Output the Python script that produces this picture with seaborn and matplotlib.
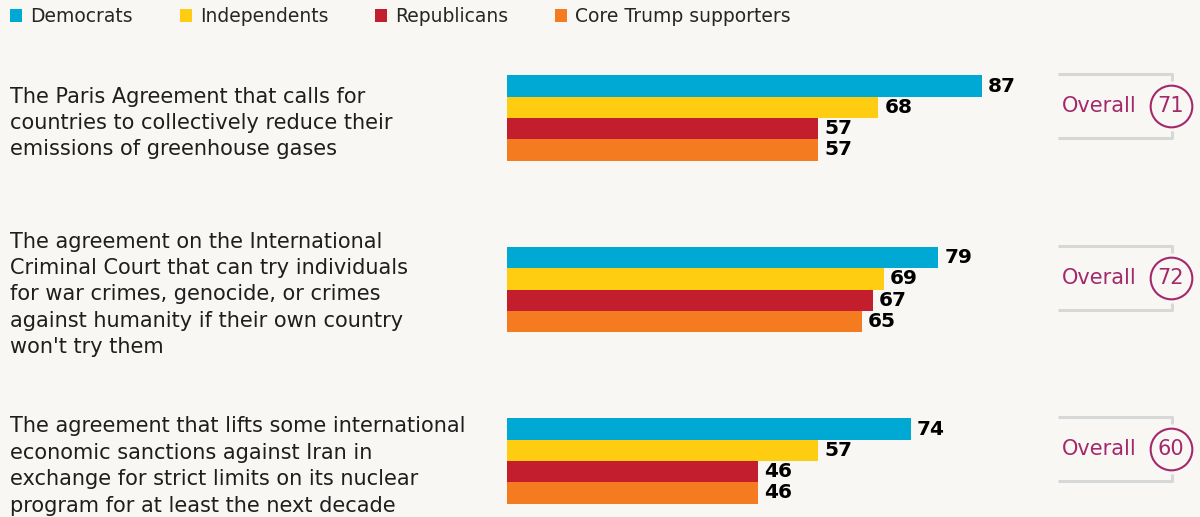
import pandas as pd
import seaborn as sns
import matplotlib.pyplot as plt

# Data
questions = [
    "The Paris Agreement that calls for\ncountries to collectively reduce their\nemissions of greenhouse gases",
    "The agreement on the International\nCriminal Court that can try individuals\nfor war crimes, genocide, or crimes\nagainst humanity if their own country\nwon't try them",
    "The agreement that lifts some international\neconomic sanctions against Iran in\nexchange for strict limits on its nuclear\nprogram for at least the next decade",
]
groups = ['Democrats', 'Independents', 'Republicans', 'Core Trump supporters']
democrats = [87, 79, 74]
independents = [68, 69, 57]
republicans = [57, 67, 46]
core_trump = [57, 65, 46]
overall = [71, 72, 60]

colors = ['#00a9d4', '#fecc11', '#c31e2d', '#f47b20']
bg = '#f9f7f3'
magenta = '#a3286c'
grey = '#d5d7d8'

rows = []
for name, vals in zip(groups, [democrats, independents, republicans, core_trump]):
    for q, v in zip(questions, vals):
        rows.append({'question': q, 'group': name, 'value': v})
df = pd.DataFrame(rows)

sns.set_style('white')
plt.rcParams['font.family'] = ['DejaVu Sans']

fig = plt.figure(figsize=(12, 5.17), dpi=100, facecolor=bg)
ax = fig.add_axes([0, 0, 1, 1])
ax.set_facecolor(bg)

sns.barplot(data=df, y='question', x='value', hue='group', hue_order=groups,
            palette=colors, orient='h', width=0.497, saturation=1,
            linewidth=0, ax=ax)

# layout: 5.46 px per point, bars start at x=507px; groups 171.5px apart
scale = 5.46
x0 = 507
def px(x):
    return (x - x0) / scale
def py(y, g):
    return g + y / 171.5

ax.set_xlim(px(0), px(1200))
ax.set_ylim((517 - 118) / 171.5, -118 / 171.5)
ax.axis('off')

# value labels
for i, vals in enumerate([democrats, independents, republicans, core_trump]):
    for g, v in enumerate(vals):
        yc = g + (i - 1.5) * 0.497 / 4
        ax.text(v + 6 / scale, yc, str(v), ha='left', va='center',
                fontsize=14.5, fontweight='bold', color='black')

# question labels
for g, q in enumerate(questions):
    ax.text(px(10), py(5, g), q, ha='left', va='center', fontsize=15,
            color='#1f1d1e', linespacing=1.4)

# overall boxes
for g, v in enumerate(overall):
    top = py(-44, g)
    bot = py(20, g)
    ax.plot([px(1058), px(1172), px(1172)], [top, top, py(-37, g)],
            color=grey, lw=2.2, solid_capstyle='butt')
    ax.plot([px(1058), px(1172), px(1172)], [bot, bot, py(13, g)],
            color=grey, lw=2.2, solid_capstyle='butt')
    ax.text(px(1062), py(-12, g), 'Overall', ha='left', va='center',
            fontsize=15, color=magenta)
    ax.scatter([px(1171)], [py(-12, g)], s=900, facecolor=bg,
               edgecolor=magenta, linewidth=1.5, zorder=5)
    ax.text(px(1171), py(-12, g), str(v), ha='center', va='center',
            fontsize=15, color=magenta, zorder=6)

sns.move_legend(ax, 'upper left', bbox_to_anchor=(10 / 1200, 1 - 7 / 517), ncol=4,
                frameon=False, title=None, fontsize=13.5,
                handlelength=0.64, handleheight=0.64, handletextpad=0.43,
                columnspacing=2.5, borderaxespad=0, borderpad=0)

fig.savefig('out.png', dpi=100, facecolor=bg)
